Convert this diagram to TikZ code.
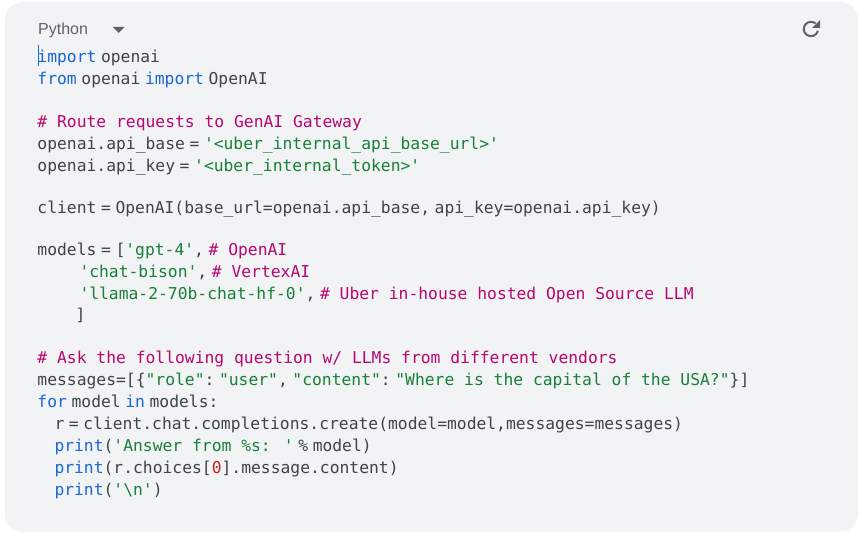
\documentclass[tikz,border=0pt]{standalone}
\usepackage{fontspec}
\setmainfont{Liberation Sans}
\newfontfamily\codefont{DejaVu Sans Mono}
\definecolor{panel}{HTML}{F1F3F5}
\definecolor{ink}{HTML}{3C4549}
\definecolor{kwc}{HTML}{1A67D2}
\definecolor{cmc}{HTML}{B80672}
\definecolor{stc}{HTML}{188038}
\definecolor{nmc}{HTML}{C5221F}
\definecolor{mute}{HTML}{5F6368}
\newcommand{\kw}[1]{\textcolor{kwc}{#1}}
\newcommand{\cm}[1]{\textcolor{cmc}{#1}}
\newcommand{\st}[1]{\textcolor{stc}{#1}}
\newcommand{\nm}[1]{\textcolor{nmc}{#1}}
\newcommand{\sps}{\hspace{4.6pt}}
\tikzset{
  x=1pt,y=-1pt,
  code/.style={anchor=base west,inner sep=0pt,outer sep=0pt,text=ink,
    font=\codefont\fontsize{16.33}{20}\selectfont},
  label/.style={anchor=base west,inner sep=0pt,text=mute,font=\fontsize{16}{20}\selectfont},
}
\begin{document}
\begin{tikzpicture}
\useasboundingbox (0,0) rectangle (860,534);
\fill[white] (0,0) rectangle (860,534);
\fill[panel,rounded corners=18pt] (5,2) rectangle (858,532);
\node[label] (lang) at (38,35) {Python};
\fill[mute] (113,27) -- (124.5,27) -- (118.75,33) -- cycle;
\draw[mute,line width=2pt] (815.6,23.5) arc[start angle=-50,end angle=-345,radius=7.2];
\fill[mute] (820,20) -- (820,28) -- (812,28) -- cycle;
\draw[kwc,line width=1pt] (38,45) -- (38,66);
\node[code] (l0) at (37.5,63) {\kw{import}\sps openai};
\node[code] (l1) at (37.5,85) {\kw{from}\sps openai\sps\kw{import}\sps OpenAI};
\node[code] (l3) at (37.5,128) {\cm{\# Route requests to GenAI Gateway}};
\node[code] (l4) at (37.5,150) {openai.api\_base\sps=\sps\st{'<uber\_internal\_api\_base\_url>'}};
\node[code] (l5) at (37.5,172) {openai.api\_key\sps=\sps\st{'<uber\_internal\_token>'}};
\node[code] (l7) at (37.5,214) {client\sps=\sps OpenAI(base\_url=openai.api\_base,\sps api\_key=openai.api\_key)};
\node[code] (l9) at (37.5,256) {models\sps=\sps[\st{'gpt-4'},\sps\cm{\# OpenAI}};
\node[code] (l10) at (79.5,278) {\st{'chat-bison'},\sps\cm{\# VertexAI}};
\node[code] (l11) at (79.5,300) {\st{'llama-2-70b-chat-hf-0'},\sps\cm{\# Uber in-house hosted Open Source LLM}};
\node[code] (l12) at (75.5,321) {]};
\node[code] (l14) at (37.5,364) {\cm{\# Ask the following question w/ LLMs from different vendors}};
\node[code] (l15) at (37.5,386) {messages=[\{\st{"role"}:\sps\st{"user"},\sps\st{"content"}:\sps\st{"Where is the capital of the USA?"}\}]};
\node[code] (l16) at (37.5,408) {\kw{for}\sps model\sps\kw{in}\sps models:};
\node[code] (l17) at (54.5,430) {r\sps=\sps client.chat.completions.create(model=model,messages=messages)};
\node[code] (l18) at (54.5,452) {\kw{print}(\st{'Answer from \%s: '}\sps\%\sps model)};
\node[code] (l19) at (54.5,474) {\kw{print}(r.choices[\nm{0}].message.content)};
\node[code] (l20) at (54.5,496) {\kw{print}(\st{'\textbackslash n'})};
\end{tikzpicture}
\end{document}
